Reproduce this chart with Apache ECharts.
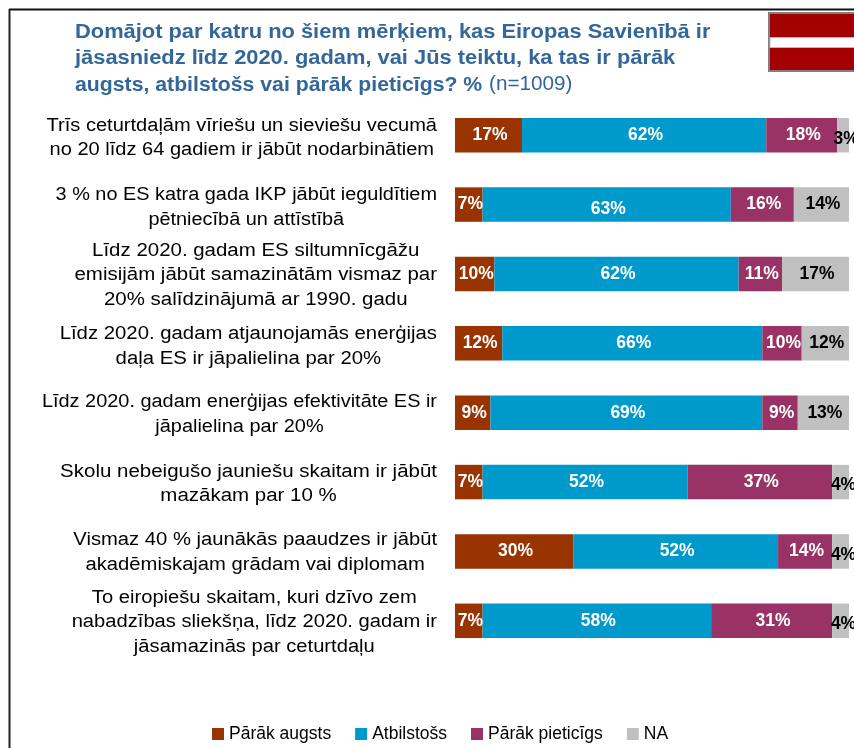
<!DOCTYPE html>
<html><head><meta charset="utf-8">
<style>html,body{margin:0;padding:0;background:#fff}#c{width:854px;height:748px}</style>
<script src="https://cdn.jsdelivr.net/npm/echarts@6/dist/echarts.min.js"></script>
</head><body><div id="c"></div>
<script>
const categories = [
 "Trīs ceturtdaļām vīriešu un sieviešu vecumā\nno 20 līdz 64 gadiem ir jābūt nodarbinātiem",
 "3 % no ES katra gada IKP jābūt ieguldītiem\npētniecībā un attīstībā",
 "Līdz 2020. gadam ES siltumnīcgāžu\nemisijām jābūt samazinātām vismaz par\n20% salīdzinājumā ar 1990. gadu",
 "Līdz 2020. gadam atjaunojamās enerģijas\ndaļa ES ir jāpalielina par 20%",
 "Līdz 2020. gadam enerģijas efektivitāte ES ir\njāpalielina par 20%",
 "Skolu nebeigušo jauniešu skaitam ir jābūt\nmazākam par 10 %",
 "Vismaz 40 % jaunākās paaudzes ir jābūt\nakadēmiskajam grādam vai diplomam",
 "To eiropiešu skaitam, kuri dzīvo zem\nnabadzības sliekšņa, līdz 2020. gadam ir\njāsamazinās par ceturtdaļu"
];
const tooHigh   = [17,7,10,12,9,7,30,7];
const adequate  = [62,63,62,66,69,52,52,58];
const tooLow    = [18,16,11,10,9,36.7,13.7,30.7];
const na        = [3,14,17,12,13,4.3,4.3,4.3];
const seriesNames = ["Pārāk augsts","Atbilstošs","Pārāk pieticīgs","NA"];
const colors = ["#993300","#0099CC","#993366","#C0C0C0"];
const FONT = '"Liberation Sans", Arial, sans-serif';
const LABEL_FONT = '18px ' + FONT;
const STRETCH = [1.114,1.105,1.136,1.129,1.106,1.138,1.123,1.12];
const NUDGE_Y = [3,3,1.5,3,2,2,1,1.5];

const ctx = document.createElement('canvas').getContext('2d');
ctx.font = LABEL_FONT;
const LINE_H = 24.5, LABEL_RIGHT_GAP = 18;

function makeSeries(name, values, color, textColor, tweak){
  return {
    name, type:'bar', stack:'t', barWidth:34.5,
    itemStyle:{color},
    data: values.map((v,i)=>{
      const d = {value:v};
      if (tweak && tweak[i]) d.label = {offset:tweak[i]};
      return d;
    }),
    label:{show:true, position:'inside', offset:[1.5,0],
      formatter:p=>Math.round(p.value)+'%', color:textColor, fontWeight:'bold', fontSize:17.5, fontFamily:FONT},
    emphasis:{disabled:true}
  };
}
const chart = echarts.init(document.getElementById('c'),null,{renderer:'canvas'});
chart.setOption({
  animation:false,
  backgroundColor:'#fff',
  grid:{left:455,top:100.5,width:394,height:555},
  xAxis:{type:'value',min:0,max:100,show:false},
  yAxis:{type:'category',inverse:true,data:categories,
    axisLine:{show:false},axisTick:{show:false},axisLabel:{show:false}},
  legend:{left:207,top:720,itemWidth:12,itemHeight:12,itemGap:24,icon:'rect',
    data:seriesNames,
    textStyle:{fontSize:17.5,fontFamily:FONT,color:'#000'}},
  series:[
    makeSeries(seriesNames[0],tooHigh,colors[0],'#fff'),
    makeSeries(seriesNames[1],adequate,colors[1],'#fff',{1:[1.5,5]}),
    makeSeries(seriesNames[2],tooLow,colors[2],'#fff'),
    makeSeries(seriesNames[3],na,colors[3],'#000',{0:[3,4],5:[3,3],6:[3,4],7:[3,3]}),
    {
      type:'custom', name:'labels', silent:true, z:5,
      encode:{x:0,y:1},
      data:categories.map((c,i)=>[0,i]),
      renderItem:(params,api)=>{
        const idx = api.value(1);
        const p = api.coord([0,idx]);
        const lines = categories[idx].split('\n');
        const w = Math.max(...lines.map(s=>ctx.measureText(s).width))*STRETCH[idx];
        const cx = p[0]-LABEL_RIGHT_GAP-w/2;
        return {type:'group',children:lines.map((s,k)=>({
          type:'text',x:cx,y:p[1]+NUDGE_Y[idx]+(k-(lines.length-1)/2)*LINE_H,scaleX:STRETCH[idx],
          style:{text:s,font:LABEL_FONT,fill:'#000',textAlign:'center',textVerticalAlign:'middle'}
        }))};
      }
    }
  ],
  graphic:[
    {type:'line',shape:{x1:9,y1:9.5,x2:854,y2:9.5},style:{stroke:'#111',lineWidth:2}},
    {type:'line',shape:{x1:9.5,y1:9,x2:9.5,y2:748},style:{stroke:'#222',lineWidth:2}},
    {type:'rect',shape:{x:769,y:13,width:86,height:58},style:{fill:'#A50000',stroke:'#808080',lineWidth:2}},
    {type:'rect',shape:{x:770,y:37.5,width:85,height:10},style:{fill:'#fff',stroke:'#b8b8b8',lineWidth:1}},
    {type:'text',x:75,y:32,scaleX:1.093,style:{text:'Domājot par katru no šiem mērķiem, kas Eiropas Savienībā ir',
      font:'bold 20px '+FONT,fill:'#336699',textVerticalAlign:'middle'}},
    {type:'text',x:75,y:58,scaleX:1.093,style:{text:'jāsasniedz līdz 2020. gadam, vai Jūs teiktu, ka tas ir pārāk',
      font:'bold 20px '+FONT,fill:'#336699',textVerticalAlign:'middle'}},
    {type:'text',x:75,y:85,scaleX:1.062,style:{text:'augsts, atbilstošs vai pārāk pieticīgs? %',
      font:'bold 20px '+FONT,fill:'#336699',textVerticalAlign:'middle'}},
    {type:'text',x:489,y:85,scaleX:1.062,style:{text:'(n=1009)',
      font:'19.5px '+FONT,fill:'#336699',textVerticalAlign:'middle'}}
  ]
});
</script></body></html>
